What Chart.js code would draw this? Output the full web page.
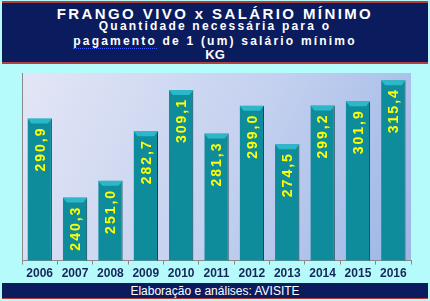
<!DOCTYPE html>
<html>
<head>
<meta charset="utf-8">
<script src="https://cdn.jsdelivr.net/npm/chart.js@4/dist/chart.umd.min.js"></script>
<style>
  html, body { margin: 0; padding: 0; }
  body { width: 430px; height: 301px; background: #b6fbfb; position: relative; overflow: hidden; font-family: "Liberation Sans", Arial, sans-serif; }
  #head { position: absolute; left: 2px; top: 1px; width: 426px; height: 63px; background: #0b1c5e;
          border-top: 2px solid #b04040; border-bottom: 2px solid #b04040; box-sizing: border-box; color: #fff; text-align: center; }
  #head div { position: absolute; left: 0; width: 100%; font-weight: bold; white-space: nowrap; }
  #t1 { top: 2px; font-size: 15px; letter-spacing: 2.4px; }
  #t2 { top: 16px; font-size: 12px; letter-spacing: 2.2px; }
  #t3 { top: 31px; font-size: 12px; letter-spacing: 2.2px; }
  #t3 span { border-bottom: 1px dotted #3a5cff; }
  #t4 { top: 44px; font-size: 13px; }
  #foot { position: absolute; left: 2px; top: 283px; width: 426px; height: 16px; background: #0b1c5e; color: #fff;
          font-size: 12px; text-align: center; line-height: 16px; border-bottom: 1px solid #b04040; box-sizing: border-box; }
  #wrap { position: absolute; left: 0; top: 64px; width: 430px; height: 219px; }
</style>
</head>
<body>
<div id="head">
  <div id="t1">FRANGO VIVO x SALÁRIO MÍNIMO</div>
  <div id="t2">Quantidade necessária para o</div>
  <div id="t3"><span>pagamento</span> de 1 (um) salário mínimo</div>
  <div id="t4">KG</div>
</div>
<div id="wrap"><canvas id="grafico"></canvas></div>
<div id="foot">Elaboração e análises: AVISITE</div>
<script>
var anos = ["2006", "2007", "2008", "2009", "2010", "2011", "2012", "2013", "2014", "2015", "2016"];
var quilos = [290.9, 240.3, 251.0, 282.7, 309.1, 281.3, 299.0, 274.5, 299.2, 301.9, 315.4];

// fundo da area do grafico
var fundoPlugin = {
    id: 'fundo',
    beforeDraw: function (chart) {
        var a = chart.chartArea, ctx = chart.ctx;
        var g = ctx.createLinearGradient(a.left, a.top, a.right, a.bottom);
        g.addColorStop(0, "#e3e6f6");
        g.addColorStop(0.55, "#c3d0ef");
        g.addColorStop(1, "#9cb6e6");
        ctx.save();
        ctx.fillStyle = g;
        ctx.fillRect(a.left, a.top, a.right - a.left, a.bottom - a.top);
        ctx.restore();
    }
};

// topo chanfrado das barras + rotulos amarelos
var rotuloPlugin = {
    id: 'rotulos',
    afterDatasetsDraw: function (chart) {
        var ctx = chart.ctx;
        var meta = chart.getDatasetMeta(0);
        ctx.save();
        meta.data.forEach(function (bar, i) {
            var l = bar.x - bar.width / 2, r = bar.x + bar.width / 2, t = bar.y;
            ctx.fillStyle = "#2bb8c8";
            ctx.beginPath();
            ctx.moveTo(l, t);
            ctx.lineTo(r, t);
            ctx.lineTo(r - 4, t + 5);
            ctx.lineTo(l + 4, t + 5);
            ctx.closePath();
            ctx.fill();

            ctx.save();
            ctx.translate(bar.x + 1, t + 8);
            ctx.rotate(-Math.PI / 2);
            ctx.font = "bold 14px 'Liberation Sans', Arial";
            ctx.letterSpacing = "2px";
            ctx.fillStyle = "#ffff00";
            ctx.textAlign = "right";
            ctx.textBaseline = "middle";
            ctx.fillText(quilos[i].toFixed(1).replace(".", ","), 0, 0);
            ctx.restore();
        });
        ctx.restore();
    }
};

var ctx = document.getElementById("grafico").getContext("2d");
new Chart(ctx, {
    type: 'bar',
    data: {
        labels: anos,
        datasets: [{
            data: quilos,
            backgroundColor: function (c) {
                var a = c.chart.chartArea;
                var el = c.element;
                if (!a || !el || !el.width) return "#0e8c9c";
                var l = el.x - el.width / 2, r = el.x + el.width / 2;
                var g = c.chart.ctx.createLinearGradient(l, 0, r, 0);
                g.addColorStop(0, "#0a6f7d");
                g.addColorStop(0.15, "#1199aa");
                g.addColorStop(0.75, "#0c8797");
                g.addColorStop(1, "#06505c");
                return g;
            },
            borderColor: "#053d46",
            borderWidth: { top: 0, left: 0, right: 1, bottom: 0 },
            barPercentage: 0.69,
            categoryPercentage: 1
        }]
    },
    options: {
        responsive: true,
        maintainAspectRatio: false,
        animation: false,
        layout: { padding: { left: 14, right: 19, top: 9, bottom: 0 } },
        plugins: { legend: { display: false }, tooltip: { enabled: false } },
        scales: {
            x: {
                grid: { display: true, drawOnChartArea: false, offset: true, color: "#8a8a8a", tickLength: 4 },
                border: { color: "#8a8a8a" },
                ticks: { color: "#17275a", font: { family: "'Liberation Sans', Arial", size: 12, weight: 'bold' }, padding: 2, maxRotation: 0 }
            },
            y: {
                min: 200,
                max: 320,
                grid: { display: false },
                border: { color: "#8a8a8a" },
                ticks: { display: false }
            }
        }
    },
    plugins: [fundoPlugin, rotuloPlugin]
});
</script>
</body>
</html>
